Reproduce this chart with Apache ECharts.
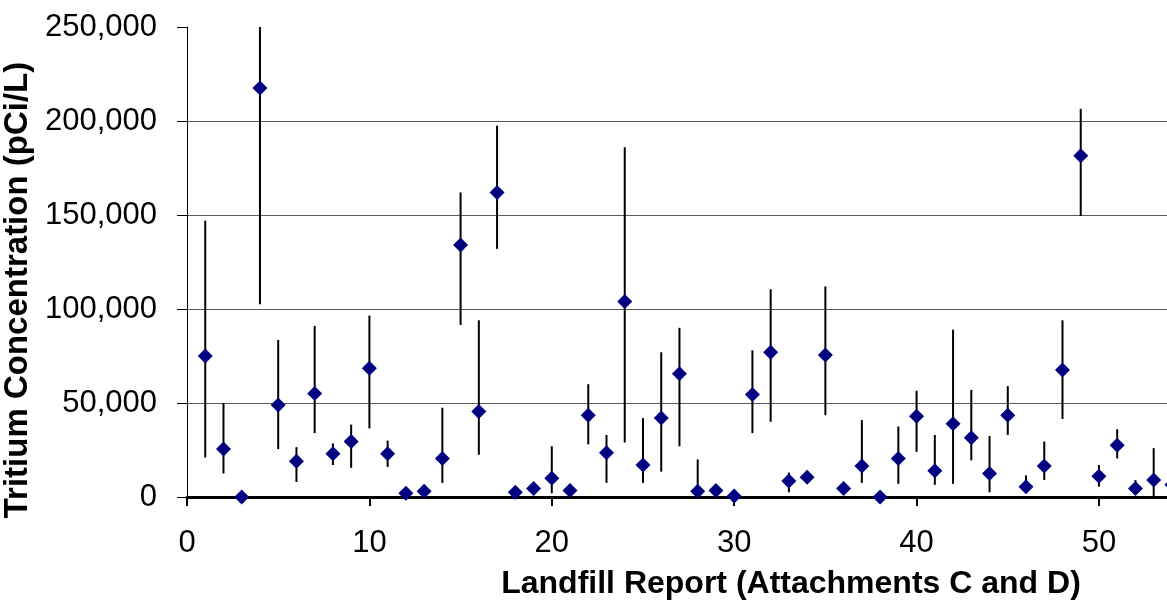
<!DOCTYPE html>
<html>
<head>
<meta charset="utf-8">
<script src="https://cdn.jsdelivr.net/npm/echarts@6/dist/echarts.min.js"></script>
<style>
html,body{margin:0;padding:0;background:#fff;overflow:hidden;}
#chart{width:1167px;height:603px;}
</style>
</head>
<body>
<div id="chart"></div>
<script>
// Landfill report number (x)
const reportNo = [1,2,3,4,5,6,7,8,9,10,11,12,13,14,15,16,17,18,19,20,21,22,23,24,25,26,27,28,29,30,31,32,33,34,35,36,37,38,39,40,41,42,43,44,45,46,47,48,49,50,51,52,53,54];
// Tritium concentration (pCi/L)
const tritium = [75000,25500,0,217500,49000,19000,55000,23000,29500,68500,23000,2000,3000,20500,134000,45500,162000,2500,4500,10000,3500,43500,23500,104000,17000,42000,65500,3000,3500,500,54500,77000,8500,10500,75500,4500,16500,0,20500,43000,14000,39000,31500,12500,43500,5500,16500,67500,181500,11000,27500,4500,9000,6500];
// Lower end of range bar
const lowBound = [21000,12500,0,102500,25500,8000,34000,17000,15500,36500,16000,0,1000,7500,91500,22500,132000,1000,3000,2000,0,28000,7500,29000,7500,13500,27000,0,1000,0,34000,40000,2500,9000,43500,3500,7500,0,7000,24000,6500,7000,19500,2500,33000,3500,9000,41500,149500,5500,20500,2000,0,4000];
// Upper end of range bar
const highBound = [147000,50000,0,250000,83500,26500,91000,28500,38500,96500,30000,3000,4000,47500,162000,94000,197500,3500,6000,27000,5000,60000,33000,186000,42000,77000,90000,20000,5000,1000,78000,110500,13000,14000,112000,5500,41000,0,37500,56500,33000,89000,57000,32500,59000,11500,29500,94000,206500,17000,36000,9000,26000,9000];
// Axis tick values
const yTicks = [0,50000,100000,150000,200000,250000];
const xTickLabels = ['0','10','20','30','40','50'];

const FONT = '"Liberation Sans", Arial, sans-serif';
const chart = echarts.init(document.getElementById('chart'), null, {renderer:'canvas'});

const barData = reportNo.map((x,i)=>[x, lowBound[i], highBound[i]]);
const ptData = reportNo.map((x,i)=>[x, tritium[i]]);

chart.setOption({
  animation:false,
  backgroundColor:'#ffffff',
  grid:{left:187, top:27, bottom:106, right:0, containLabel:false, outerBoundsMode:'none'},
  xAxis:{
    type:'value', min:0, max:53.73, interval:10,
    name:'Landfill Report (Attachments C and D)',
    nameLocation:'middle', nameGap:71,
    nameTextStyle:{fontFamily:FONT, fontSize:32, fontWeight:'bold', color:'#000', padding:[0,0,0,228]},
    axisLine:{show:true, lineStyle:{color:'#000', width:3}},
    axisTick:{show:true, inside:false, length:9, lineStyle:{color:'#000', width:2}},
    axisLabel:{margin:31, fontFamily:FONT, fontSize:31, color:'#000', showMaxLabel:false,
      formatter:function(v){ const s=String(v); return xTickLabels.indexOf(s)>=0 ? s : ''; }},
    splitLine:{show:false}
  },
  yAxis:{
    type:'value', min:yTicks[0], max:yTicks[yTicks.length-1], interval:50000,
    name:'Tritium Concentration (pCi/L)',
    nameLocation:'middle', nameRotate:90, nameGap:136,
    nameTextStyle:{fontFamily:FONT, fontSize:33, fontWeight:'bold', color:'#000', padding:[0,56,0,0]},
    axisLine:{show:true, lineStyle:{color:'#000', width:1}},
    axisTick:{show:true, inside:false, length:10, lineStyle:{color:'#000', width:1}},
    axisLabel:{margin:30, fontFamily:FONT, fontSize:31, color:'#000',
      formatter:function(v){ return v.toLocaleString('en-US'); }},
    splitLine:{show:true, showMinLine:false, showMaxLine:false, lineStyle:{color:'#5a5a5a', width:1}}
  },
  series:[
    {
      type:'custom',
      clip:true,
      data:barData,
      encode:{x:0, y:[1,2]},
      z:2,
      renderItem:function(params, api){
        const x = api.value(0), lo = api.value(1), hi = api.value(2);
        if (hi - lo <= 0) return null;
        const p1 = api.coord([x, lo]);
        const p2 = api.coord([x, hi]);
        return {type:'line', shape:{x1:p1[0], y1:p1[1], x2:p2[0], y2:p2[1]},
          style:{stroke:'#000', lineWidth:2}};
      }
    },
    {
      type:'scatter',
      data:ptData,
      symbol:'diamond',
      symbolSize:[15,15],
      clip:false,
      z:3,
      itemStyle:{color:'#000080', opacity:1}
    }
  ]
});
</script>
</body>
</html>
